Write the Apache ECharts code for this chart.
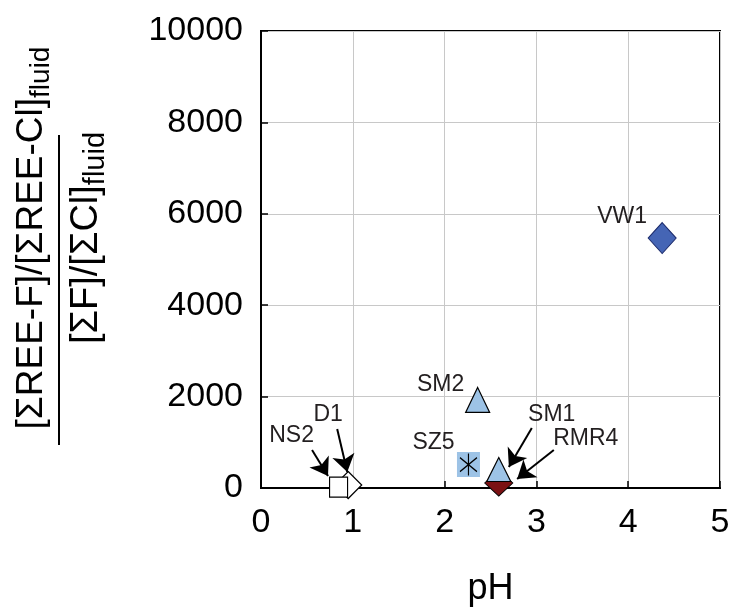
<!DOCTYPE html>
<html>
<head>
<meta charset="utf-8">
<script src="https://cdn.jsdelivr.net/npm/echarts@6/dist/echarts.min.js"></script>
<style>html,body{margin:0;padding:0;background:#fff;}#chart{width:729px;height:610px;}</style>
</head>
<body>
<div id="chart"></div>
<script>
// ---- data ----
const sampleNames = ['D1', 'NS2', 'SZ5', 'SM2', 'RMR4', 'SM1', 'VW1'];
const pHValues = [0.95, 0.845, 2.26, 2.36, 2.59, 2.59, 4.37];
const ratioValues = [65, 20, 514, 1926, 110, 405, 5470];
const xTicks = [0, 1, 2, 3, 4, 5];
const yTicks = [0, 2000, 4000, 6000, 8000, 10000];
// annotation arrows (data units): start and tip
const arrowNames = ['NS2', 'D1', 'SM1', 'RMR4'];
const arrowStartPH = [0.556, 0.83, 2.95, 3.19];
const arrowStartVal = [832, 1291, 1313, 832];
const arrowEndPH = [0.73, 0.94, 2.70, 2.79];
const arrowEndVal = [263, 350, 460, 197];

// ---- styles ----
const FONT = 'Liberation Sans';
const lightBlue = '#9DC3E6';
const styles = {
  D1:   {symbol: 'diamond', size: [27, 27], color: '#ffffff', border: '#000', bw: 1.2, label: [-20, -70]},
  NS2:  {symbol: 'rect', size: [18, 20], color: '#ffffff', border: '#000', bw: 1.2, label: [-47, -51]},
  SZ5:  {symbol: 'rect', size: [23, 25], color: lightBlue, border: lightBlue, bw: 0, label: [-35, -22]},
  SM2:  {symbol: 'triangle', size: [24, 25], color: lightBlue, border: '#000', bw: 1.2, label: [-37, -15]},
  RMR4: {symbol: 'diamond', size: [28, 26], color: '#7B1113', border: '#000', bw: 1, label: [87, -44]},
  SM1:  {symbol: 'triangle', size: [24, 24], color: lightBlue, border: '#000', bw: 1.2, label: [53, -55]},
  VW1:  {symbol: 'diamond', size: [28, 31], color: '#4565B5', border: '#1B2A6B', bw: 1, label: [-40, -21]}
};

const series = [];
sampleNames.forEach(function (name, i) {
  const st = styles[name];
  series.push({
    type: 'scatter',
    name: name,
    symbol: st.symbol,
    symbolSize: st.size,
    itemStyle: {color: st.color, borderColor: st.border, borderWidth: st.bw, opacity: 1},
    label: {
      show: true, formatter: name, position: 'inside', offset: st.label,
      fontFamily: FONT, fontSize: 23, color: '#231F20'
    },
    emphasis: {disabled: true},
    data: [[pHValues[i], ratioValues[i]]]
  });
  if (name === 'SZ5') {
    series.push({
      type: 'scatter',
      name: 'SZ5-star',
      symbol: 'path://M8,0 L8,22 M0,4 L16,18 M0,18 L16,4',
      symbolSize: [17, 22],
      itemStyle: {color: 'rgba(0,0,0,0)', borderColor: '#000', borderWidth: 1.3, opacity: 1},
      emphasis: {disabled: true},
      data: [[pHValues[i], ratioValues[i]]]
    });
  }
});

series.push({
  type: 'scatter',
  name: 'arrows',
  data: [],
  markLine: {
    silent: true,
    animation: false,
    symbol: ['none', 'arrow'],
    symbolSize: 17,
    label: {show: false},
    lineStyle: {color: '#000', width: 2, type: 'solid'},
    emphasis: {disabled: true},
    data: arrowNames.map(function (n, i) {
      return [{coord: [arrowStartPH[i], arrowStartVal[i]]}, {coord: [arrowEndPH[i], arrowEndVal[i]]}];
    })
  }
});

const chart = echarts.init(document.getElementById('chart'), null, {renderer: 'canvas'});
chart.setOption({
  animation: false,
  backgroundColor: '#fff',
  grid: {
    left: 261, right: 9, top: 31, bottom: 122,
    show: true, borderColor: '#000', borderWidth: 2,
    containLabel: false, outerBoundsMode: 'none'
  },
  xAxis: {
    type: 'value', min: xTicks[0], max: xTicks[xTicks.length - 1], interval: 1,
    name: 'pH', nameLocation: 'middle', nameGap: 83,
    nameTextStyle: {fontFamily: FONT, fontSize: 36, color: '#000'},
    axisLine: {show: true, onZero: false, lineStyle: {color: '#000', width: 2}},
    axisTick: {show: true, inside: true, length: 7, lineStyle: {color: '#000', width: 1.5}},
    axisLabel: {fontFamily: FONT, fontSize: 34, color: '#000', margin: 18},
    splitLine: {show: true, lineStyle: {color: '#C8C8C8', width: 1}}
  },
  yAxis: {
    type: 'value', min: yTicks[0], max: yTicks[yTicks.length - 1], interval: 2000,
    axisLine: {show: true, onZero: false, lineStyle: {color: '#000', width: 2}},
    axisTick: {show: true, inside: true, length: 7, lineStyle: {color: '#000', width: 1.5}},
    axisLabel: {fontFamily: FONT, fontSize: 34, color: '#000', margin: 18,
      formatter: function (v) { return String(v); }},
    splitLine: {show: true, lineStyle: {color: '#C8C8C8', width: 1}}
  },
  graphic: [
    {
      type: 'text', x: 32, y: 238, rotation: Math.PI / 2, silent: true,
      style: {
        text: '{m|[ΣREE-F]/[ΣREE-Cl]}{s|fluid}',
        align: 'center', verticalAlign: 'middle',
        rich: {
          m: {fontFamily: FONT, fontSize: 37, lineHeight: 46, fill: '#000'},
          s: {fontFamily: FONT, fontSize: 28, lineHeight: 28, verticalAlign: 'bottom', fill: '#000'}
        }
      }
    },
    {
      type: 'line', silent: true,
      shape: {x1: 59, y1: 135, x2: 59, y2: 445},
      style: {stroke: '#000', lineWidth: 2}
    },
    {
      type: 'text', x: 87, y: 238, rotation: Math.PI / 2, silent: true,
      style: {
        text: '{m|[ΣF]/[ΣCl]}{s|fluid}',
        align: 'center', verticalAlign: 'middle',
        rich: {
          m: {fontFamily: FONT, fontSize: 38, lineHeight: 46, fill: '#000'},
          s: {fontFamily: FONT, fontSize: 29, lineHeight: 28, verticalAlign: 'bottom', fill: '#000'}
        }
      }
    }
  ],
  series: series
});
</script>
</body>
</html>
